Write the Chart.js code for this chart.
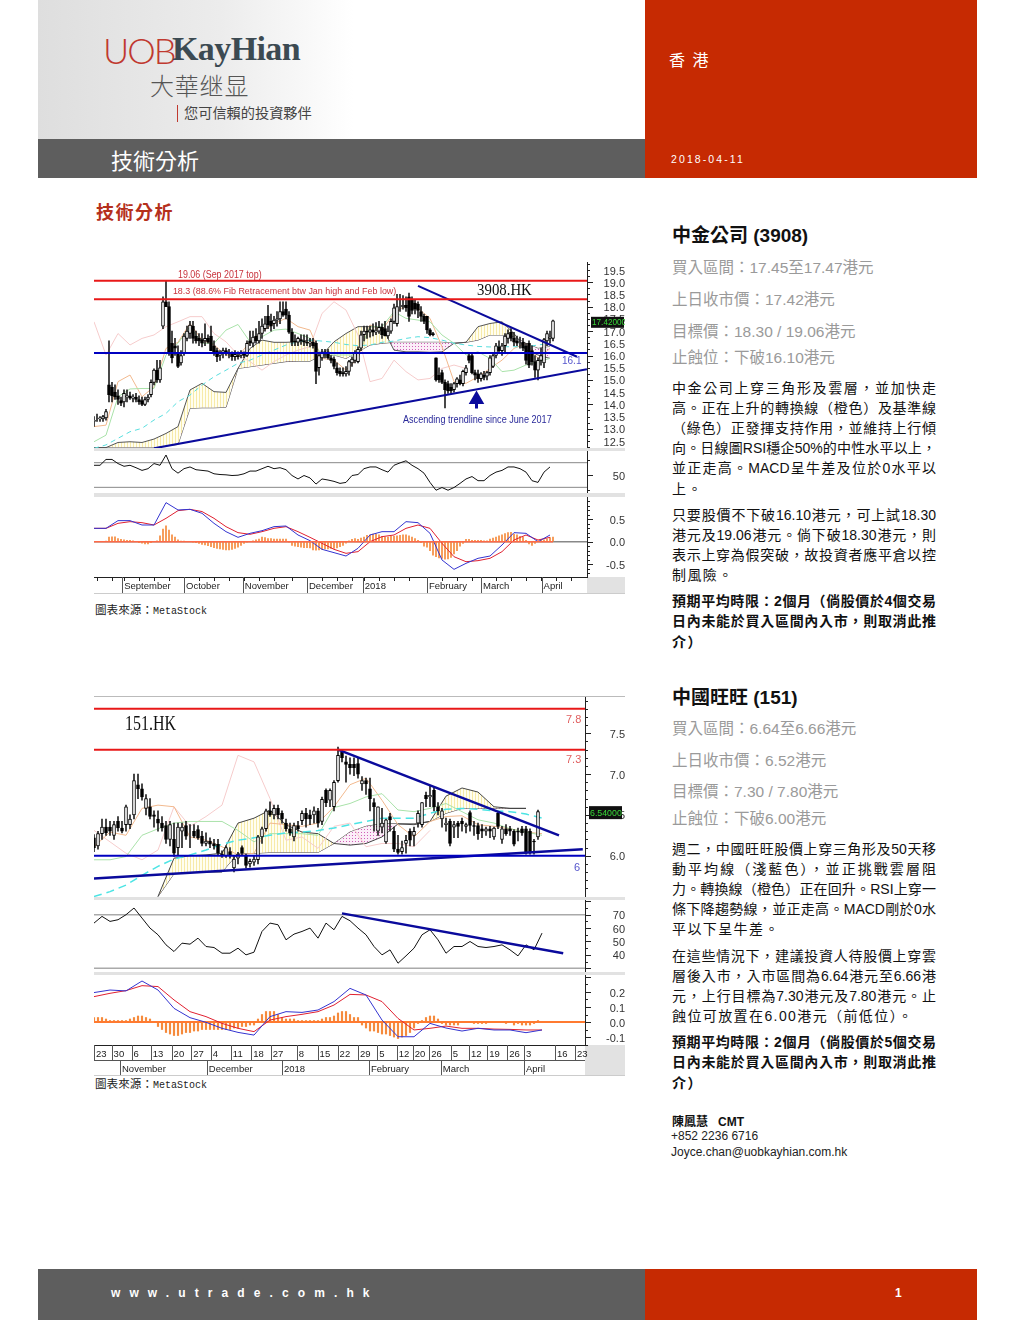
<!DOCTYPE html>
<html>
<head>
<meta charset="utf-8">
<title>技術分析</title>
<script src="https://cdn.jsdelivr.net/npm/chart.js@4"></script>
<style>
  html, body { margin: 0; padding: 0; background: #fff; }
  body { position: relative; width: 1020px; height: 1320px; overflow: hidden; font-family: "Liberation Sans", "Noto Sans CJK TC", sans-serif; }
  canvas { position: absolute; left: 94px; filter: blur(.35px); }
  .box, .t { position: absolute; }
  .t { white-space: nowrap; line-height: 20px; }
  .gray { left: 672px; font-size: 15.5px; color: #9a9a9a; }
  .head { left: 672px; font-size: 19px; font-weight: bold; color: #111; }
  .ln { position: absolute; left: 672px; width: 264px; font-size: 14px; line-height: 20px; color: #111; white-space: nowrap; text-align: justify; text-align-last: justify; }
  .ln.end { text-align-last: left; letter-spacing: 1.4px; }
  .ln.b { font-weight: bold; }
  .src { left: 95px; font-family: "Liberation Mono", "Noto Sans CJK TC", monospace; font-size: 11.6px; color: #222; }
  .src span { font-size: 10px; }
  .sep { position: absolute; left: 94px; width: 531px; background: #e2e2e2; }
</style>
</head>
<body>
<div class="box" style="left:38px;top:0;width:607px;height:139px;background:linear-gradient(90deg,#dedede 0,#ececec 30%,#fff 52%)"></div>
<div class="box" style="left:38px;top:139px;width:607px;height:39px;background:#5e5e5e"></div>
<div class="box" style="left:645px;top:0;width:332px;height:178px;background:#c62a02"></div>
<div class="box" style="left:38px;top:1269px;width:607px;height:51px;background:#5e5e5e"></div>
<div class="box" style="left:645px;top:1269px;width:332px;height:51px;background:#c62a02"></div>

<div class="t" style="left:103px;top:40px;font-family:Lato;font-weight:300;font-size:36px;line-height:20px;color:#c0392f;letter-spacing:-2px">UOB</div>
<div class="t" style="left:172px;top:39px;font-family:'Liberation Serif';font-weight:bold;font-size:34px;line-height:20px;color:#3c4a52;letter-spacing:-.6px">KayHian</div>
<div class="t" style="left:150px;top:75px;font-family:'Noto Sans CJK TC';font-weight:300;font-size:24px;color:#555;letter-spacing:.8px">大華继显</div>
<div class="box" style="left:177px;top:105px;width:1px;height:17px;background:#c0392f"></div>
<div class="t" style="left:184px;top:102px;font-family:'Noto Sans CJK TC';font-size:14.2px;color:#444">您可信賴的投資夥伴</div>
<div class="t" style="left:111px;top:149px;font-family:'Noto Sans CJK TC';font-size:22px;color:#fff">技術分析</div>
<div class="t" style="left:669px;top:49px;font-family:'Noto Sans CJK TC';font-size:16px;color:#fff;letter-spacing:2px">香 港</div>
<div class="t" style="left:671px;top:149px;font-size:10.5px;color:#fff;letter-spacing:2.1px">2018-04-11</div>
<div class="t" style="left:96px;top:201px;font-family:'Noto Sans CJK TC';font-weight:bold;font-size:18px;color:#b5301c;letter-spacing:1.5px">技術分析</div>

<div class="t head" style="top:226px">中金公司 (3908)</div>
<div class="t gray" style="top:258px">買入區間：17.45至17.47港元</div>
<div class="t gray" style="top:290px">上日收市價：17.42港元</div>
<div class="t gray" style="top:322px">目標價：18.30 / 19.06港元</div>
<div class="t gray" style="top:348px">止蝕位：下破16.10港元</div>
<div class="ln" style="top:378px">中金公司上穿三角形及雲層，並加快走</div>
<div class="ln" style="top:398px">高。正在上升的轉換線（橙色）及基準線</div>
<div class="ln" style="top:418px">（綠色）正發揮支持作用，並維持上行傾</div>
<div class="ln" style="top:438px">向。日線圖RSI穩企50%的中性水平以上，</div>
<div class="ln" style="top:458px">並正走高。MACD呈牛差及位於0水平以</div>
<div class="ln end" style="top:479px">上。</div>
<div class="ln" style="top:505px">只要股價不下破16.10港元，可上試18.30</div>
<div class="ln" style="top:525px">港元及19.06港元。倘下破18.30港元，則</div>
<div class="ln" style="top:545px">表示上穿為假突破，故投資者應平倉以控</div>
<div class="ln end" style="top:565px">制風險。</div>
<div class="ln b" style="top:591px">預期平均時限：2個月（倘股價於4個交易</div>
<div class="ln b" style="top:611px">日內未能於買入區間內入市，則取消此推</div>
<div class="ln b end" style="top:632px">介）</div>

<div class="t head" style="top:688px">中國旺旺 (151)</div>
<div class="t gray" style="top:719px">買入區間：6.64至6.66港元</div>
<div class="t gray" style="top:751px">上日收市價：6.52港元</div>
<div class="t gray" style="top:782px">目標價：7.30 / 7.80港元</div>
<div class="t gray" style="top:809px">止蝕位：下破6.00港元</div>
<div class="ln" style="top:839px">週二，中國旺旺股價上穿三角形及50天移</div>
<div class="ln" style="top:859px">動平均線（淺藍色），並正挑戰雲層阻</div>
<div class="ln" style="top:879px">力。轉換線（橙色）正在回升。RSI上穿一</div>
<div class="ln" style="top:899px">條下降趨勢線，並正走高。MACD剛於0水</div>
<div class="ln end" style="top:919px">平以下呈牛差。</div>
<div class="ln" style="top:946px">在這些情況下，建議投資人待股價上穿雲</div>
<div class="ln" style="top:966px">層後入市，入市區間為6.64港元至6.66港</div>
<div class="ln" style="top:986px">元，上行目標為7.30港元及7.80港元。止</div>
<div class="ln end" style="top:1006px">蝕位可放置在6.00港元（前低位）。</div>
<div class="ln b" style="top:1032px">預期平均時限：2個月（倘股價於5個交易</div>
<div class="ln b" style="top:1052px">日內未能於買入區間內入市，則取消此推</div>
<div class="ln b end" style="top:1073px">介）</div>

<div class="t" style="left:672px;top:1112px;font-size:12px;font-weight:bold;color:#111">陳鳳慧&nbsp;&nbsp;&nbsp;CMT</div>
<div class="t" style="left:671px;top:1126px;font-size:12px;color:#222">+852 2236 6716</div>
<div class="t" style="left:671px;top:1142px;font-size:12px;color:#222">Joyce.chan@uobkayhian.com.hk</div>
<div class="t" style="left:111px;top:1283px;font-size:12px;font-weight:bold;color:#fff;letter-spacing:9.1px">www.utrade.com.hk</div>
<div class="t" style="left:895px;top:1283px;font-size:12px;font-weight:bold;color:#fff">1</div>

<div class="sep" style="top:448px;height:3px"></div>
<div class="sep" style="top:493px;height:4px"></div>
<div class="sep" style="top:593px;height:1px;background:#ccc"></div>
<div class="box" style="left:587px;top:577px;width:38px;height:16px;background:#e2e2e2"></div>
<div class="t src" style="top:601px">圖表來源：<span>MetaStock</span></div>

<div class="sep" style="top:696px;height:1px;background:#bbb"></div>
<div class="sep" style="top:897px;height:3px"></div>
<div class="sep" style="top:972px;height:3px"></div>
<div class="sep" style="top:1075px;height:1px;background:#ccc"></div>
<div class="box" style="left:585px;top:1045px;width:40px;height:30px;background:#e2e2e2"></div>
<div class="t src" style="top:1075px">圖表來源：<span>MetaStock</span></div>

<canvas id="price1" width="531" height="186" style="top:262px"></canvas>
<canvas id="rsi1" width="531" height="42" style="top:451px"></canvas>
<canvas id="macd1" width="531" height="96" style="top:497px"></canvas>
<canvas id="price2" width="531" height="200" style="top:697px"></canvas>
<canvas id="rsi2" width="531" height="72" style="top:900px"></canvas>
<canvas id="macd2" width="531" height="100" style="top:975px"></canvas>

<script>
// 3908.HK, one entry per trading bar
const opens1 = [
  13.3,13.4,13.4,13.4,13.45,14.8,14.7,14.5,14.35,14.15,
  14.1,14.3,14.35,14.25,14.3,14.2,14.15,14.0,14.2,14.4,
  14.9,15.4,15.0,17.2,18.2,18.0,16.5,16.4,16.1,15.7,
  16.1,16.7,16.9,17.2,16.8,16.7,16.65,16.6,16.7,16.8,
  16.4,16.2,16.0,16.1,16.2,16.1,16.05,15.95,16.0,16.0,
  16.1,16.0,16.6,16.5,16.8,16.6,16.9,17.1,17.6,17.4,
  17.3,17.45,17.5,17.8,17.9,17.65,16.95,16.6,16.55,16.65,
  16.6,16.55,16.5,16.55,16.5,15.5,15.9,16.15,16.15,15.9,
  15.85,15.5,15.35,15.3,15.25,15.35,15.7,15.8,15.75,16.3,
  16.85,17.0,16.95,17.05,16.95,17.0,17.15,17.1,16.8,17.0,
  17.4,17.3,18.0,18.0,18.05,18.4,18.3,18.15,18.1,17.8,
  17.6,17.6,17.05,16.9,15.9,15.2,15.3,14.9,14.85,14.7,
  14.6,14.85,15.0,14.85,15.3,16.0,16.0,15.3,15.25,15.05,
  15.2,15.15,15.3,15.55,16.0,16.35,16.2,16.4,16.7,16.95,
  16.7,16.6,16.55,16.55,16.4,16.5,16.2,15.75,15.4,15.8,
  15.7,16.6,16.7,16.7];
const highs1 = [
  13.5,13.6,13.5,13.55,13.8,16.6,14.9,14.8,14.6,14.3,
  14.6,14.6,14.5,14.4,14.45,14.35,14.3,14.3,14.4,15.0,
  15.45,15.8,15.8,18.4,19.08,18.2,17.0,16.7,16.4,16.2,
  16.9,17.2,17.4,17.4,17.0,16.9,16.9,17.3,16.85,17.2,
  16.6,16.3,16.2,16.3,16.3,16.25,16.15,16.2,16.15,16.2,
  16.15,16.6,17.0,17.0,17.1,17.4,17.5,17.6,18.05,17.7,
  17.6,17.8,18.2,18.2,18.2,17.8,17.1,16.85,16.75,16.85,
  16.85,16.85,16.7,16.7,16.6,16.1,16.25,16.25,16.25,16.0,
  15.95,15.7,15.5,15.5,15.55,15.8,15.95,16.2,16.35,17.0,
  17.2,17.2,17.2,17.3,17.35,17.4,17.3,17.4,17.2,17.5,
  18.1,18.5,18.5,18.45,18.4,18.55,18.4,18.3,18.2,18.0,
  17.7,17.6,17.1,16.95,15.9,15.5,15.4,15.0,14.95,14.85,
  14.9,15.1,15.2,15.4,15.6,16.1,16.1,15.4,15.4,15.3,
  15.35,15.35,16.0,16.1,16.5,16.6,16.5,16.9,17.05,17.1,
  16.95,16.8,16.75,16.7,16.5,16.6,16.4,16.0,15.9,16.3,
  16.7,17.0,17.0,17.45];
const lows1 = [
  13.1,13.3,13.3,13.3,13.35,14.1,14.1,14.2,14.0,13.95,
  13.9,14.1,14.2,14.1,14.1,14.0,13.95,13.95,14.1,14.3,
  14.8,14.9,14.9,17.1,18.0,16.0,15.7,16.0,15.5,15.6,
  16.0,16.6,16.7,16.5,16.5,16.4,16.35,16.4,16.5,16.2,
  16.0,15.75,15.8,15.9,16.0,15.9,15.8,15.8,15.85,15.9,
  15.9,15.95,16.4,16.35,16.5,16.5,16.7,17.0,17.1,17.0,
  17.1,17.2,17.3,17.6,17.5,16.9,16.4,16.4,16.4,16.45,
  16.4,16.4,16.35,16.3,14.85,15.2,15.8,15.9,15.85,15.7,
  15.45,15.2,15.15,15.15,15.15,15.2,15.55,15.7,15.7,16.2,
  16.6,16.7,16.75,16.8,16.85,16.9,16.7,16.8,16.7,16.9,
  17.3,17.2,17.8,17.9,17.8,17.4,17.7,17.7,17.55,17.4,
  17.3,16.9,16.8,16.8,14.95,14.9,14.85,13.85,14.45,14.45,
  14.5,14.7,14.8,14.75,15.2,15.7,15.25,15.0,14.9,14.95,
  15.0,15.0,15.2,15.5,15.9,16.1,16.0,16.1,16.5,16.6,
  16.4,16.4,16.3,16.2,15.65,15.5,15.6,15.1,15.0,15.6,
  15.5,16.4,16.5,16.6];
const closes1 = [
  13.35,13.4,13.45,13.5,13.7,14.4,14.35,14.3,14.2,14.05,
  14.45,14.35,14.25,14.3,14.2,14.1,14.0,14.2,14.3,14.9,
  15.4,15.0,15.5,18.2,18.0,16.1,15.9,16.3,15.55,16.0,
  16.8,17.0,17.25,16.7,16.6,16.6,16.5,16.7,16.55,16.2,
  16.1,15.95,16.1,16.2,16.1,16.05,15.95,16.05,15.95,16.1,
  16.0,16.5,16.5,16.75,16.6,16.9,17.2,17.3,17.25,17.2,
  17.45,17.5,17.8,17.65,17.65,16.95,16.55,16.55,16.7,16.6,
  16.55,16.5,16.55,16.4,15.35,16.0,16.15,16.05,15.9,15.8,
  15.55,15.3,15.25,15.25,15.35,15.75,15.85,16.1,16.25,16.85,
  17.0,16.95,17.05,16.95,17.0,17.15,16.85,16.8,17.0,17.4,
  17.95,18.0,18.0,18.05,17.95,17.6,17.85,17.9,17.85,17.6,
  17.4,17.05,16.85,16.85,15.0,15.0,14.9,14.6,14.55,14.55,
  14.85,15.05,14.85,15.35,15.5,15.8,15.3,15.2,15.05,15.25,
  15.1,15.3,15.9,16.0,16.4,16.2,16.4,16.8,16.9,16.7,
  16.55,16.5,16.55,16.3,15.8,15.6,15.75,15.4,15.8,16.0,
  16.65,16.9,16.75,17.42];
// read every 4th bar
const tenkan1 = [13.09,13.15,14.93,15.2,14.31,14.72,16.29,16.54,17.31,16.63,16.43,16.02,15.95,16.56,16.97,17.31,17.52,17.18,17.04,15.88,15.81,15.4,15.88,17.25,17.04,17.72,18.06,17.93,17.52,16.36,14.93,14.86,15.13,15.47,15.81,16.29,16.5,15.88,16.29];
const kijun1 = [12.47,12.74,14.31,14.63,14.65,14.65,16.02,16.5,17.18,16.5,16.5,17.04,17.27,16.56,16.77,17.04,17.08,16.9,16.7,16.02,16.02,16.02,16.02,17.18,17.18,17.79,17.52,17.45,17.38,16.84,16.5,16.02,16.15,15.88,15.34,15.4,15.61,15.75,15.88];
const ma50_1 = [12.2,12.34,12.61,12.88,13.02,13.36,13.63,14.11,14.38,14.79,15.13,15.4,15.68,15.81,16.02,16.22,16.43,16.56,16.63,16.59,16.54,16.45,16.4,16.43,16.54,16.59,16.7,16.77,16.73,16.63,16.5,16.43,16.37,16.35,16.36,16.36,16.36,16.43,16.5];
const chikou1 = [17.38,16.02,16.9,16.43,16.7,16.84,17.18,17.38,17.59,17.59,16.9,16.56,16.02,15.75,15.4,15.75,16.02,16.22,16.36,17.72,18.2,17.86,16.84,14.93,15.06,15.81,15.34,15.0,15.06,15.47,15.61,15.47];
const spanA1 = [12.23,12.23,12.44,12.47,12.44,12.58,12.81,13.09,14.59,14.86,14.52,14.49,15.47,16.29,16.63,16.54,16.54,16.56,16.63,16.02,16.56,16.9,17.18,17.18,17.18,16.22,16.15,16.15,16.13,16.15,16.5,16.54,17.18,17.31,17.38,16.9,16.22,16.02,15.88];
const spanB1 = [12.23,12.23,12.23,12.23,12.23,12.23,12.31,12.36,13.84,13.86,13.86,13.88,15.47,15.54,15.61,15.68,15.75,15.77,15.77,16.02,16.02,15.88,16.15,16.43,16.5,16.54,16.54,16.54,16.54,16.54,16.5,16.54,16.63,16.84,16.84,16.77,16.5,16.29,16.36];
// read every 2nd bar
const rsi1 = [65.8,65.8,75.3,75.3,68.6,64.2,65.8,61.9,57.5,60.3,68.6,65.8,82.5,60.3,53.0,60.3,63.1,58.6,57.5,56.4,52.0,50.8,50.3,49.2,49.7,52.0,56.4,56.4,60.3,64.2,60.3,61.9,58.6,49.2,43.6,49.2,45.3,35.3,43.6,41.9,39.7,36.4,38.0,49.2,50.8,60.3,63.1,63.1,58.6,54.7,65.8,69.7,73.1,65.8,60.3,53.0,38.0,25.3,29.7,25.3,29.7,36.4,43.6,47.5,40.8,40.8,49.2,54.7,57.5,63.1,63.1,60.3,54.7,40.8,38.0,54.7,63.1];
const macd1 = [.297,.297,.468,.468,.371,.371,.868,.705,.719,.631,.408,.223,.097,.186,.245,.334,.349,.149,.023,-.169,-.243,-.318,-.147,.149,.223,.223,.445,.423,.186,-.406,-.614,-.481,-.369,-.318,-.073,.201,.186,0,.149];
const signal1 = [.297,.297,.408,.445,.423,.371,.519,.69,.719,.67,.519,.334,.201,.164,.223,.297,.334,.223,.097,-.036,-.169,-.258,-.221,0,.112,.149,.297,.371,.297,-.036,-.333,-.444,-.421,-.369,-.221,.038,.149,.038,.097];
const hist1 = [
  0,0,0,0,.01,.1,.11,.11,.07,.05,.04,.03,.03,.02,0,-.02,-.03,-.05,-.05,-.02,
  0,.02,.13,.28,.35,.26,.15,.1,.04,.01,.01,0,0,-.01,-.02,-.04,-.06,-.07,-.09,-.11,
  -.13,-.15,-.16,-.17,-.18,-.18,-.17,-.15,-.12,-.08,-.04,-.01,0,.02,.04,.06,.1,.09,.07,.07,
  .06,.06,.06,.06,.06,-.01,-.08,-.1,-.11,-.12,-.13,-.13,-.14,-.18,-.19,-.18,-.17,-.16,-.16,-.15,
  -.15,-.14,-.11,-.08,-.03,.02,.05,.07,.05,.08,.1,.14,.15,.17,.17,.15,.12,.1,.1,.12,
  .12,.13,.14,.15,.15,.13,.1,.07,.03,-.02,-.1,-.12,-.2,-.3,-.33,-.36,-.37,-.39,-.38,-.35,
  -.27,-.2,-.1,-.04,.05,.05,.03,.03,.03,.03,.02,.02,.06,.08,.1,.13,.15,.18,.2,.21,
  .17,.15,.12,.1,.03,-.05,-.08,-.04,.02,.03,.04,.06,.09,.1];
const redLevels1 = [19.06, 18.3];
const supportLevel1 = 16.1;
const downBars1 = [108, 161], downVals1 = [18.85, 15.95];
const upBars1 = [20, 164.3], upVals1 = [12.2, 15.44];
const priceTicks1 = [19.5,19,18.5,18,17.5,17,16.5,16,15.5,15,14.5,14,13.5,13,12.5];
const rsiTicks1 = [50], rsiBands1 = [70, 30];
const macdTicks1 = [.5, 0, -.5];
const monthNames1 = ["September","October","November","December","2018","February","March","April"];
const monthBars1 = [9.4,30,49.6,71,89.6,111,129,149.2];
const weekBars1 = [1,6,10,15,20,25,30,35,40,45,50,55,60,66,71,76,81,86,90,95,100,105,111,116,121,126,129,134,139,144,149,154,159];
const noteTexts1 = ["19.06 (Sep 2017 top)","18.3 (88.6% Fib Retracement btw Jan high and Feb low)","3908.HK","16.1","Ascending trendline since June 2017"];
const noteBars1 = [28,26.3,127.7,156,103];
const noteVals1 = [19.3,18.64,18.64,15.78,13.36];

// 151.HK, one entry per trading bar
const opens2 = [
  6.22,6.12,6.27,6.35,6.35,6.25,6.42,6.34,6.38,6.38,
  6.5,6.87,6.82,6.58,6.6,6.5,6.45,6.4,6.37,6.2,
  6.2,6.1,6.3,6.37,6.24,6.3,6.32,6.24,6.15,6.18,
  6.15,6.14,6.02,6.0,6.05,5.85,5.97,6.1,6.0,5.9,
  5.92,5.95,6.23,6.33,6.55,6.5,6.58,6.52,6.4,6.33,
  6.23,6.37,6.43,6.52,6.5,6.5,6.55,6.42,6.8,6.68,
  6.6,6.92,7.27,7.15,7.12,7.12,7.13,6.88,6.92,6.82,
  6.65,6.3,6.35,6.17,6.48,6.3,6.08,6.05,6.15,6.3,
  6.25,6.4,6.38,6.74,6.72,6.8,6.6,6.45,6.38,6.42,
  6.35,6.4,6.42,6.36,6.53,6.37,6.37,6.33,6.3,6.33,
  6.23,6.52,6.2,6.33,6.33,6.3,6.3,6.33,6.33,6.3,
  6.18,6.23];
const highs2 = [
  6.26,6.3,6.45,6.45,6.42,6.42,6.48,6.42,6.62,6.5,
  7.0,7.0,6.88,6.75,6.7,6.55,6.55,6.48,6.42,6.42,
  6.4,6.4,6.4,6.42,6.38,6.38,6.37,6.3,6.28,6.22,
  6.2,6.2,6.06,6.12,6.1,6.0,6.04,6.12,6.02,5.96,
  6.0,6.25,6.35,6.57,6.66,6.62,6.62,6.55,6.45,6.4,
  6.4,6.42,6.55,6.58,6.56,6.6,6.58,6.72,6.82,6.82,
  6.92,7.33,7.3,7.22,7.2,7.2,7.2,6.97,6.95,6.95,
  6.7,6.6,6.58,6.45,6.52,6.35,6.25,6.18,6.25,6.33,
  6.35,6.55,6.65,6.78,6.85,6.85,6.65,6.58,6.46,6.45,
  6.42,6.42,6.46,6.4,6.55,6.42,6.4,6.38,6.35,6.36,
  6.35,6.54,6.36,6.38,6.36,6.32,6.34,6.36,6.36,6.33,
  6.2,6.56];
const lows2 = [
  6.05,6.08,6.2,6.25,6.25,6.2,6.3,6.28,6.3,6.33,
  6.45,6.7,6.68,6.5,6.45,6.35,6.3,6.3,6.15,6.12,
  5.99,6.0,6.1,6.2,6.1,6.22,6.2,6.12,6.12,6.1,
  6.08,6.0,5.98,5.98,5.97,5.8,5.9,6.0,5.85,5.86,
  5.88,5.9,6.15,6.3,6.48,6.45,6.45,6.4,6.3,6.25,
  6.18,6.3,6.38,6.35,6.38,6.4,6.35,6.38,6.6,6.6,
  6.55,6.9,7.15,6.9,7.0,6.98,6.95,6.8,6.75,6.55,
  6.3,6.25,6.28,6.15,6.3,6.05,6.02,6.02,6.03,6.12,
  6.12,6.35,6.35,6.6,6.6,6.55,6.5,6.35,6.3,6.12,
  6.22,6.22,6.3,6.28,6.3,6.25,6.2,6.22,6.25,6.22,
  6.2,6.33,6.15,6.25,6.25,6.12,6.18,6.25,6.02,6.02,
  6.02,6.2];
const closes2 = [
  6.1,6.27,6.35,6.28,6.3,6.38,6.34,6.3,6.6,6.45,
  6.92,6.82,6.72,6.7,6.48,6.48,6.4,6.34,6.2,6.38,
  6.03,6.35,6.35,6.24,6.24,6.24,6.22,6.15,6.18,6.14,
  6.12,6.03,6.0,6.1,6.0,5.96,6.02,6.03,5.88,5.93,
  5.96,6.23,6.33,6.55,6.5,6.58,6.5,6.45,6.33,6.28,
  6.37,6.33,6.52,6.45,6.45,6.55,6.4,6.69,6.65,6.8,
  6.9,7.23,7.2,7.12,7.08,7.08,7.0,6.92,6.88,6.7,
  6.6,6.6,6.4,6.44,6.44,6.08,6.04,6.1,6.19,6.19,
  6.3,6.52,6.65,6.7,6.74,6.6,6.55,6.55,6.4,6.15,
  6.38,6.36,6.39,6.38,6.37,6.36,6.27,6.3,6.33,6.3,
  6.34,6.36,6.33,6.27,6.3,6.14,6.29,6.28,6.04,6.04,
  6.17,6.54];
const tenkan2 = [6.11,6.29,6.25,6.58,6.62,6.6,6.23,6.19,6.11,6.01,6.03,6.4,6.38,6.36,6.4,6.6,6.87,6.95,6.68,6.38,6.23,6.42,6.48,6.49,6.38,6.36,6.33,6.29,6.27];
const kijun2 = [5.95,5.95,5.99,6.25,6.33,6.4,6.42,6.42,6.42,6.31,6.17,6.27,6.27,6.27,6.25,6.59,6.64,6.72,6.76,6.56,6.54,6.58,6.64,6.54,6.44,6.4,6.33,6.29,6.25];
const ma50_2 = [5.5,5.56,5.64,5.76,5.87,5.96,6.01,6.07,6.14,6.19,6.22,6.25,6.28,6.29,6.31,6.34,6.38,6.42,6.46,6.46,6.46,6.52,6.57,6.58,6.57,6.55,6.54,6.51,6.46];
const chikou2 = [6.31,6.17,6.03,5.95,6.07,6.6,6.36,6.48,6.62,7.23,7.15,6.7,6.19,6.23,6.09,6.36,6.4,6.11,6.15,6.15,6.11,6.31];
const cloudStart2 = 16;
const spanA2 = [5.5,5.97,6.0,6.01,6.03,6.4,6.46,6.56,6.38,6.29,6.27,6.15,6.13,6.15,6.23,6.39,6.38,6.42,6.73,6.83,6.78,6.6,6.58,6.58];
const spanB2 = [5.5,5.78,5.8,5.8,5.8,6.03,6.03,6.04,6.04,6.04,6.04,6.15,6.29,6.36,6.39,6.39,6.39,6.42,6.52,6.58,6.58,6.58,6.58,6.58];
const rsi2 = [63.75,68.75,65,66.25,70,75,67.5,60,55,47.5,42.5,48.75,48,52.5,46.25,45.5,41.25,41.25,45,40,42,57.5,63.75,62.5,51.25,55.5,57.5,60,52.5,63.75,58.75,68.75,65.5,60,55,46.25,40,43.75,33.75,39.25,45,55,58.75,51.25,41.25,46.25,46.25,50,46.25,45.5,46.25,47.5,43.75,39.25,47.5,43.75,56.25];
const macd2 = [.196,.213,.207,.273,.213,.091,.029,-.002,-.042,-.069,-.087,.036,.069,.064,.08,.136,.224,.18,.013,-.098,-.098,-.009,-.04,-.06,-.042,-.053,-.053,-.071,-.053];
const signal2 = [.169,.191,.209,.242,.236,.147,.069,.036,-.009,-.042,-.064,.013,.036,.051,.069,.113,.184,.18,.136,.024,-.053,-.042,-.027,-.042,-.042,-.047,-.049,-.053,-.053];
const hist2 = [
  .03,.03,.03,.02,.01,.01,.01,.01,.01,.02,.03,.04,.04,.03,.02,0,-.03,-.05,-.07,-.08,
  -.09,-.09,-.08,-.07,-.07,-.06,-.06,-.05,-.05,-.05,-.05,-.05,-.05,-.05,-.05,-.04,-.04,-.03,-.03,-.02,
  -.02,.02,.05,.07,.07,.07,.05,.03,.02,.02,.02,.01,.01,.01,.01,.01,.01,.02,.03,.03,
  .04,.06,.07,.07,.05,.03,.03,-.02,-.04,-.06,-.06,-.07,-.08,-.08,-.09,-.1,-.11,-.1,-.09,-.07,
  -.04,-.01,.01,.03,.04,.04,.02,-.01,-.02,-.02,-.02,-.02,0,0,0,-.01,-.01,-.01,-.01,0,
  0,0,0,-.01,0,-.02,-.01,-.02,-.02,-.02,-.01,.01];
const redLevels2 = [7.8, 7.3];
const supportLevel2 = 6;
const downBars2 = [61, 116.25], downVals2 = [7.3, 6.25];
const upBars2 = [0, 122.2], upVals2 = [5.72, 6.08];
const rsiDownBars2 = [62, 117.3], rsiDownVals2 = [71, 41.25];
const priceTicks2 = [7.5, 7, 6.5, 6];
const rsiTicks2 = [70, 60, 50, 40], rsiBands2 = [70, 30];
const macdTicks2 = [.2, .1, 0, -.1];
const dayNames2 = ["23","30","6","13","20","27","4","11","18","27","8","15","22","29","5","12","20","26","5","12","19","26","3","16","23"];
const dayBars2 = [0,4.4,9.4,14.2,19.4,24.3,29.2,34.2,39.3,44.2,50.7,55.9,60.9,66,70.8,75.7,79.7,83.8,89.2,93.75,98.3,103.3,107.5,115.25,120.25];
const monthNames2 = ["November","December","2018","February","March","April"];
const monthBars2 = [6.5,28.2,47,68.75,86.7,107.5];
const noteTexts2 = ["151.HK","7.8","7.3","6"];
const noteBars2 = [7.75,118,118,120];
const noteVals2 = [7.6,7.66,7.17,5.85];

const SANS = "'Liberation Sans'";
const SERIF = "'Liberation Serif'";

function everyN(values, step, start = 0) {
  return values.map((y, k) => ({ x: start + k * step, y }));
}

function pairs(xs, ys) {
  return xs.map((x, k) => ({ x, y: ys[k] }));
}

function line(data, color, width, order, extra = {}) {
  return { type: "line", data, borderColor: color, borderWidth: width, pointRadius: 0, tension: 0, order, ...extra };
}

function level(v, xMax, color, width, order) {
  return line(pairs([0, xMax], [v, v]), color, width, order);
}

function hatch(bg, fg, dotted) {
  const c = document.createElement("canvas");
  c.width = 3;
  c.height = dotted ? 3 : 1;
  const ctx = c.getContext("2d");
  ctx.fillStyle = bg;
  ctx.fillRect(0, 0, 3, c.height);
  ctx.fillStyle = fg;
  ctx.fillRect(0, 0, 1, 1);
  return ctx.createPattern(c, "repeat");
}
const cloudUp = hatch("#fffef0", "#f7eaa8", false);
const cloudDown = hatch("#fbeef8", "#d060b8", true);

function candleSets(o, h, l, c, width) {
  return [
    { type: "bar", grouped: false, order: 3, barThickness: 1, backgroundColor: "#222",
      data: o.map((_, i) => ({ x: i, y: [l[i], h[i]] })) },
    { type: "bar", grouped: false, order: 2, barThickness: width, borderColor: "#000", borderWidth: 1, borderSkipped: false,
      backgroundColor: o.map((_, i) => (c[i] >= o[i] ? "#fff" : "#000")),
      data: o.map((_, i) => ({ x: i, y: [o[i], c[i]] })) },
  ];
}

// axis tick marks, the long ones on the labelled values
const sideTicks = {
  id: "sideTicks",
  afterDraw(chart, args, opts) {
    if (!opts.step) return;
    const { ctx, scales: { y } } = chart;
    const steps = Math.round((y.max - y.min) / opts.step);
    const first = Math.ceil(y.min / opts.step);
    ctx.save();
    ctx.strokeStyle = "#222";
    for (let k = 0; k <= steps; k++) {
      const v = (first + k) * opts.step;
      if (v > y.max) break;
      const py = Math.round(y.getPixelForValue(v)) + 0.5;
      const isLong = Math.abs(v / opts.long - Math.round(v / opts.long)) < 0.001;
      ctx.beginPath();
      ctx.moveTo(y.left, py);
      ctx.lineTo(y.left + (isLong ? 6 : 3), py);
      ctx.stroke();
    }
    ctx.restore();
  },
};

// text inside the price panel, placed through the scales
const notes = {
  id: "notes",
  afterDatasetsDraw(chart, args, opts) {
    if (!opts.texts) return;
    const { ctx, scales: { x, y } } = chart;
    ctx.textBaseline = "middle";
    opts.texts.forEach((text, k) => {
      ctx.save();
      ctx.font = opts.fonts[k];
      ctx.fillStyle = opts.colors[k];
      ctx.translate(x.getPixelForValue(opts.bars[k]), y.getPixelForValue(opts.vals[k]));
      ctx.scale(opts.narrow[k], 1);
      ctx.fillText(text, 0, 0);
      ctx.restore();
    });
  },
};

const lastPrice = {
  id: "lastPrice",
  afterDraw(chart, args, opts) {
    if (!opts.text) return;
    const { ctx, scales: { y } } = chart;
    const py = y.getPixelForValue(opts.value) + opts.shift;
    ctx.save();
    ctx.fillStyle = "#101010";
    ctx.fillRect(y.left + 4, py - opts.h / 2, 33, opts.h);
    ctx.fillStyle = "#38d838";
    ctx.font = opts.size + "px " + SANS;
    ctx.textBaseline = "middle";
    ctx.fillText(opts.text, y.left + 5, py + 0.5);
    ctx.restore();
  },
};

// date strip under the MACD panel
const dateRows = {
  id: "dateRows",
  afterDraw(chart, args, opts) {
    if (!opts.rows) return;
    const { ctx, chartArea: area, scales: { x } } = chart;
    ctx.save();
    ctx.strokeStyle = "#222";
    ctx.beginPath();
    ctx.moveTo(area.left, area.bottom + 0.5);
    ctx.lineTo(area.right, area.bottom + 0.5);
    ctx.stroke();
    (opts.weekBars || []).forEach((bar) => {
      const px = Math.round(x.getPixelForValue(bar)) + 0.5;
      ctx.beginPath();
      ctx.moveTo(px, area.bottom);
      ctx.lineTo(px, area.bottom + 4);
      ctx.stroke();
    });
    ctx.font = "9.5px " + SANS;
    ctx.textBaseline = "middle";
    ctx.fillStyle = "#222";
    opts.rows.forEach((row, r) => {
      const top = area.bottom + r * 15;
      if (opts.rows.length > 1 && r === 0) {
        ctx.strokeStyle = "#555";
        ctx.beginPath();
        ctx.moveTo(area.left, top + 15.5);
        ctx.lineTo(area.right, top + 15.5);
        ctx.stroke();
      }
      ctx.strokeStyle = "#555";
      row.labels.forEach((label, k) => {
        const px = x.getPixelForValue(row.bars[k]);
        if (px >= area.right) return;
        ctx.beginPath();
        ctx.moveTo(Math.round(px) + 0.5, top);
        ctx.lineTo(Math.round(px) + 0.5, top + 16);
        ctx.stroke();
        ctx.fillText(label, px + 2, top + 9);
      });
    });
    ctx.restore();
  },
};

Chart.register(sideTicks, notes, lastPrice, dateRows);

function panel(id, datasets, o) {
  const canvas = document.getElementById(id);
  return new Chart(canvas, {
    type: "bar",
    data: { datasets },
    options: {
      responsive: false,
      animation: false,
      layout: { autoPadding: false, padding: { left: 0, right: 0, top: 0, bottom: o.rowsHeight || 0 } },
      plugins: {
        legend: { display: false },
        tooltip: { enabled: false },
        sideTicks: { step: o.minorStep, long: o.longStep },
        notes: o.notes || {},
        lastPrice: o.last || {},
        dateRows: o.dates || {},
      },
      scales: {
        x: { type: "linear", display: false, offset: false, min: 0, max: o.xMax },
        y: {
          type: "linear",
          position: "right",
          min: o.yMin,
          max: o.yMax,
          // the label gap must not eat into the plot height
          afterFit: (s) => { s.width = o.axisWidth; s.paddingTop = 0; s.paddingBottom = 0; },
          afterBuildTicks: (s) => { s.ticks = o.ticks.map((value) => ({ value })); },
          border: { color: "#222" },
          grid: { drawOnChartArea: false, drawTicks: false },
          ticks: {
            autoSkip: false,
            padding: o.labelGap,
            crossAlign: "far",
            labelOffset: 1.5,
            color: "#333",
            font: { family: "Liberation Sans", size: 11 },
            callback: o.format,
          },
        },
      },
    },
  });
}

const oneDecimal = (v) => v.toFixed(1);
const whole = (v) => String(v);
const NAVY = "#0a0a9c";
const RED = "#e81818";

// 3908.HK
const xMax1 = 493 / 3;
panel("price1", [
  line(everyN(spanA1, 4), "#555", 1, 8, { fill: { target: "+1", above: cloudUp, below: cloudDown } }),
  line(everyN(spanB1, 4), "#555", 1, 8),
  line(everyN(chikou1, 4), "#f6cccc", 1, 7),
  line(everyN(kijun1, 4), "#a9e2a9", 1, 6),
  line(everyN(tenkan1, 4), "#f2b98e", 1, 6),
  line(everyN(ma50_1, 4), "#58dede", 1, 5, { borderDash: [5, 4] }),
  ...candleSets(opens1, highs1, lows1, closes1, 3),
  ...redLevels1.map((v) => level(v, xMax1, RED, 2, 1)),
  level(supportLevel1, xMax1, "#0000c0", 2, 1),
  line(pairs(downBars1, downVals1), NAVY, 2, 1),
  line(pairs(upBars1, upVals1), NAVY, 2, 1),
  line(pairs([127.5, 127.5], [13.83, 14.2]), NAVY, 3, 1, { pointRadius: [0, 6], pointStyle: "triangle", pointBackgroundColor: NAVY, pointBorderColor: NAVY }),
], {
  xMax: xMax1, yMin: 12.214, yMax: 19.827, axisWidth: 38, ticks: priceTicks1, labelGap: 17, format: oneDecimal,
  minorStep: 0.25, longStep: 1,
  notes: {
    texts: noteTexts1, bars: noteBars1, vals: noteVals1,
    fonts: ["10px " + SANS, "9.5px " + SANS, "17px " + SERIF, "10px " + SANS, "10px " + SANS],
    colors: ["#c8323c", "#c8323c", "#111", "#5555cc", "#2a2a9a"],
    narrow: [0.89, 0.94, 0.87, 1, 0.91],
  },
  last: { value: 17.42, text: "17.42000", h: 11, shift: 1.5, size: 8.2 },
});

panel("rsi1", [
  ...rsiBands1.map((v) => level(v, xMax1, "#888", 1, 2)),
  line(everyN(rsi1, 2), "#111", 1, 1),
], { xMax: xMax1, yMin: 20.8, yMax: 89, axisWidth: 38, ticks: rsiTicks1, labelGap: 24, format: whole, minorStep: 25, longStep: 50 });

panel("macd1", [
  { type: "bar", grouped: false, order: 2, barThickness: 1, backgroundColor: "#f58a3c", data: everyN(hist1, 1) },
  level(0, xMax1, "#888", 1.5, 3),
  line(pairs([0, 153], [0, 0]), "#ff6a48", 1.5, 1),
  line(everyN(macd1, 4), "#3434d0", 1, 1),
  line(everyN(signal1, 4), "#e02030", 1, 1),
], {
  xMax: xMax1, yMin: -0.784, yMax: 0.993, axisWidth: 38, ticks: macdTicks1, labelGap: 18, format: oneDecimal,
  minorStep: 0.1, longStep: 0.5, rowsHeight: 16,
  dates: { weekBars: weekBars1, rows: [{ labels: monthNames1, bars: monthBars1 }] },
});

// 151.HK
const xMax2 = 491 / 4;
panel("price2", [
  line(everyN(spanA2, 4, cloudStart2), "#444", 1, 8, { fill: { target: "+1", above: cloudUp, below: cloudDown } }),
  line(everyN(spanB2, 4, cloudStart2), "#444", 1, 8),
  line(everyN(chikou2, 4), "#f6cccc", 1, 7),
  line(everyN(kijun2, 4), "#a9e2a9", 1, 6),
  line(everyN(tenkan2, 4), "#f2b98e", 1, 6),
  line(everyN(ma50_2, 4), "#4ce4e4", 1.5, 5, { borderDash: [8, 5] }),
  ...candleSets(opens2, highs2, lows2, closes2, 3),
  ...redLevels2.map((v) => level(v, xMax2, RED, 2, 1)),
  level(supportLevel2, xMax2, "#0000c0", 2, 1),
  line(pairs(downBars2, downVals2), NAVY, 2.5, 1),
  line(pairs(upBars2, upVals2), NAVY, 2.5, 1),
], {
  xMax: xMax2, yMin: 5.494, yMax: 7.945, axisWidth: 40, ticks: priceTicks2, labelGap: 23, format: oneDecimal,
  minorStep: 0.1, longStep: 0.5,
  notes: {
    texts: noteTexts2, bars: noteBars2, vals: noteVals2,
    fonts: ["20px " + SERIF, "11px " + SANS, "11px " + SANS, "11px " + SANS],
    colors: ["#111", "#e06060", "#e06060", "#5555cc"],
    narrow: [0.8, 1, 1, 1],
  },
  last: { value: 6.54, text: "6.54000", h: 13, shift: 1, size: 8.8 },
});

panel("rsi2", [
  ...rsiBands2.map((v) => level(v, xMax2, "#aaa", 1.5, 3)),
  line(everyN(rsi2, 2), "#111", 1, 2),
  line(pairs(rsiDownBars2, rsiDownVals2), NAVY, 2.5, 1),
], { xMax: xMax2, yMin: 27.2, yMax: 81, axisWidth: 40, ticks: rsiTicks2, labelGap: 26, format: whole, minorStep: 5, longStep: 10 });

panel("macd2", [
  { type: "bar", grouped: false, order: 3, barThickness: 1.5, backgroundColor: "#f58a3c", data: everyN(hist2, 1) },
  level(0, xMax2, "#ff7a30", 2, 2),
  line(everyN(macd2, 4), "#3434d0", 1, 1),
  line(everyN(signal2, 4), "#e02030", 1, 1),
], {
  xMax: xMax2, yMin: -0.153, yMax: 0.313, axisWidth: 40, ticks: macdTicks2, labelGap: 19, format: oneDecimal,
  minorStep: 0.05, longStep: 0.1, rowsHeight: 30,
  dates: { rows: [{ labels: dayNames2, bars: dayBars2 }, { labels: monthNames2, bars: monthBars2 }] },
});
</script>
</body>
</html>
